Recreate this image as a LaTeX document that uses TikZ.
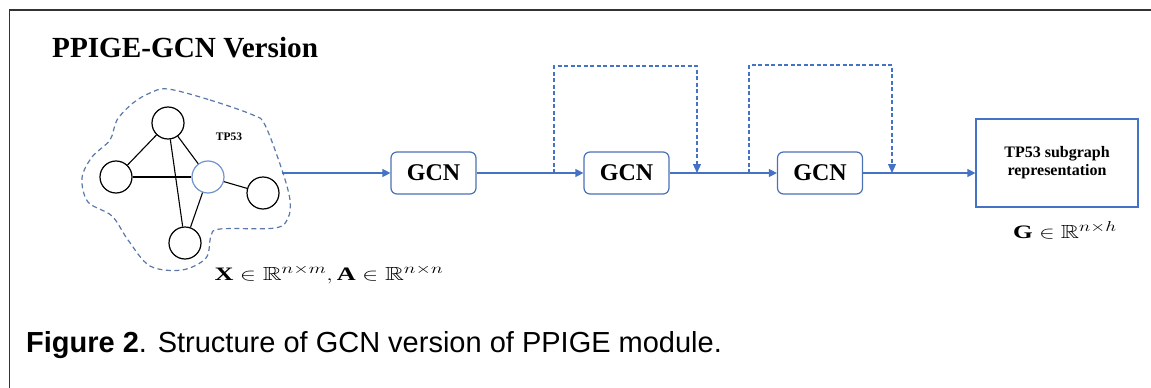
\documentclass[tikz,border=0pt]{standalone}
\usepackage{amsmath,amssymb}
\usepackage{fontspec}
\setmainfont{Liberation Serif}
\newfontfamily\capfont{Liberation Sans}
\usetikzlibrary{arrows.meta,calc}
\definecolor{lblue}{HTML}{4472C4}
\definecolor{bblue}{HTML}{4A70B5}
\definecolor{cblue}{HTML}{6F94D0}
\definecolor{dblue}{HTML}{5A78A8}
\definecolor{frame}{HTML}{333333}
\tikzset{
  gcnbox/.style={draw=bblue, line width=1.2pt, rounded corners=6pt, minimum width=85pt, minimum height=42pt, inner sep=0pt, font=\fontsize{24}{24}\selectfont\bfseries},
  gnode/.style={circle, draw=black, line width=1.2pt, minimum size=32pt, inner sep=0pt},
  gedge/.style={line width=1.1pt, black},
  flow/.style={draw=lblue, line width=1.2pt, -{Triangle[width=8pt,length=8pt]}},
  skip/.style={draw=lblue, line width=1.1pt, dash pattern=on 4pt off 2.5pt, -{Triangle[width=8pt,length=9pt]}},
  mathlab/.style={anchor=base, inner sep=0pt, font=\fontsize{19}{19}\selectfont},
}
\begin{document}
\begin{tikzpicture}[x=1pt,y=-1pt]
\useasboundingbox (0,0) rectangle (1151,388);
% frame
\draw[frame, line width=1.3pt] (1151,10) -- (9.5,10) -- (9.5,388);
% title
\node[anchor=base west, inner sep=0pt, font=\fontsize{29.2}{29.2}\selectfont\bfseries] (title) at (52,57) {PPIGE-GCN Version};
% blob
\draw[dblue, line width=1.2pt, dash pattern=on 5pt off 3.5pt]
  plot[smooth cycle, tension=0.55] coordinates {(168,89) (210,100) (253,115) (265,125) (282,170) (290,200) (288,218) (275,228) (220,229) (211,236) (206,258) (182,270) (150,266) (128,240) (112,216) (88,202) (82,178) (92,157) (110,140) (117,120) (133,103) (150,93)};
% graph nodes
\node[gnode] (top) at (168,123) {};
\node[gnode] (left) at (116,177) {};
\node[gnode, draw=cblue] (tp) at (208,177) {};
\node[gnode] (right) at (263,193) {};
\node[gnode] (bot) at (185,243) {};
\draw[gedge] (top) -- (left);
\draw[gedge] (top) -- (tp);
\draw[gedge] (top) -- (bot);
\draw[gedge] (left) -- (tp);
\draw[gedge] (tp) -- (right);
\draw[gedge] (tp) -- (bot);
\node[font=\fontsize{11.5}{11.5}\selectfont\bfseries] (tplab) at (229,137) {TP53};
% GCN boxes
\node[gcnbox] (g1) at (433.5,173) {GCN};
\node[gcnbox] (g2) at (626.5,173) {GCN};
\node[gcnbox] (g3) at (820,173) {GCN};
\node[draw=lblue, line width=1.2pt, minimum width=162pt, minimum height=88pt, inner sep=0pt, align=center, font=\fontsize{16}{18}\selectfont\bfseries] (fin) at (1057,163) {TP53 subgraph\\representation};
% flow
\coordinate (blobR) at (282,173);
\draw[flow] (blobR) -- (g1.west);
\draw[flow] (g1) -- (g2);
\draw[flow] (g2) -- (g3);
\draw[flow] (g3.east) -- (g3.east -| fin.west);
% skips
\coordinate (s1a) at (554,173);
\coordinate (s1b) at (697,173);
\coordinate (s2a) at (749,173);
\coordinate (s2b) at (892,173);
\draw[skip] (s1a) -- ++(0,-107) -| (s1b);
\draw[skip] (s2a) -- ++(0,-108) -| (s2b);
% math labels
\node[mathlab] (xa) at (329,280) {\scalebox{1.38}[1]{$\mathbf{X}\in\mathbb{R}^{n\times m},\mathbf{A}\in\mathbb{R}^{n\times n}$}};
\node[mathlab] (gl) at (1065,238) {\scalebox{1.33}[1]{$\mathbf{G}\in\mathbb{R}^{n\times h}$}};
% caption
\node[anchor=base west, inner sep=0pt, font=\capfont\fontsize{29}{29}\selectfont] (cap) at (26,352) {\textbf{Figure 2}. Structure of GCN version of PPIGE module.};
\end{tikzpicture}
\end{document}
